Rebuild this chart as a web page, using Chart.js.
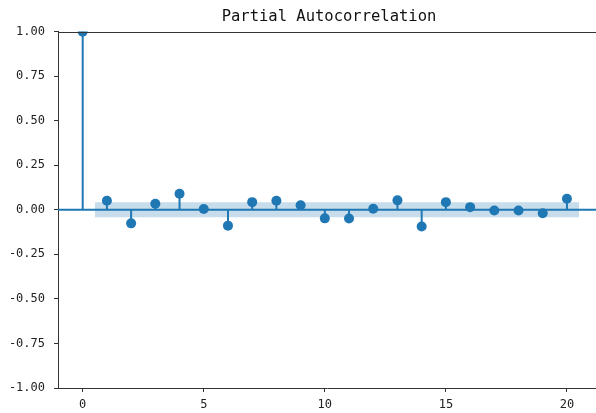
<!DOCTYPE html>
<html>
<head>
<meta charset="utf-8">
<script src="https://cdn.jsdelivr.net/npm/chart.js@4.4.0/dist/chart.umd.min.js"></script>
<style>
  html, body { margin: 0; padding: 0; background: #fff; }
  #wrap { width: 596px; height: 413px; }
</style>
</head>
<body>
<div id="wrap"><canvas id="pacf" width="596" height="413"></canvas></div>
<script>
var lags = [0, 1, 2, 3, 4, 5, 6, 7, 8, 9, 10, 11, 12, 13, 14, 15, 16, 17, 18, 19, 20];
var pacf = [1.0, 0.051, -0.076, 0.034, 0.09, 0.004, -0.089, 0.043, 0.051, 0.026, -0.048,
            -0.049, 0.006, 0.053, -0.094, 0.043, 0.015, -0.004, -0.004, -0.019, 0.062];
var confLimit = 0.042;
var bandLags = [0.5, 20.5];
var xTicks = [0, 5, 10, 15, 20];
var xMin = -1.02, xMax = 21.2;
var yMin = -1, yMax = 1;

var blue = '#1f77b4';
var axisColor = '#333';

// stems go from 0 to value, broken by a null point
var stems = [];
var markers = [];
for (var i = 0; i < lags.length; i++) {
  stems.push({x: lags[i], y: 0});
  stems.push({x: lags[i], y: pacf[i]});
  stems.push({x: lags[i], y: null});
  markers.push({x: lags[i], y: pacf[i]});
}

var topSpine = {
  id: 'topSpine',
  afterLayout: function(chart) {
    // center title over the axes like matplotlib does
    if (chart.titleBlock) {
      chart.titleBlock.left = chart.chartArea.left;
      chart.titleBlock.right = 600;
    }
  },
  afterDraw: function(chart) {
    var a = chart.chartArea, ctx = chart.ctx;
    ctx.save();
    ctx.strokeStyle = axisColor;
    ctx.lineWidth = 1;
    ctx.beginPath();
    ctx.moveTo(a.left, Math.round(a.top) + 0.5);
    ctx.lineTo(a.right, Math.round(a.top) + 0.5);
    ctx.stroke();
    ctx.restore();
  }
};

var ctx = document.getElementById('pacf').getContext('2d');
var chart = new Chart(ctx, {
  type: 'scatter',
  data: {
    datasets: [
      {
        data: markers,
        pointRadius: 5,
        pointBackgroundColor: blue,
        pointBorderWidth: 0,
        showLine: false,
        clip: 0
      },
      {
        data: stems,
        showLine: true,
        spanGaps: false,
        borderColor: blue,
        borderWidth: 2,
        pointRadius: 0
      },
      {
        data: [{x: xMin, y: 0}, {x: xMax, y: 0}],
        showLine: true,
        borderColor: blue,
        borderWidth: 2,
        pointRadius: 0
      },
      {
        data: bandLags.map(function(l) { return {x: l, y: confLimit}; }),
        showLine: true,
        borderWidth: 0,
        borderColor: 'rgba(0,0,0,0)',
        pointRadius: 0,
        fill: {value: -confLimit},
        backgroundColor: 'rgba(31,119,180,0.25)'
      }
    ]
  },
  options: {
    responsive: false,
    animation: false,
    layout: { padding: 0, autoPadding: false },
    plugins: {
      legend: { display: false },
      tooltip: { enabled: false },
      title: {
        display: true,
        text: 'Partial Autocorrelation',
        color: '#111',
        font: { family: 'DejaVu Sans Mono', size: 15.5, weight: 'normal' },
        padding: { top: 8, bottom: 5 }
      }
    },
    scales: {
      x: {
        type: 'linear',
        min: xMin,
        max: xMax,
        afterBuildTicks: function(axis) {
          axis.ticks = xTicks.map(function(v) { return {value: v}; });
        },
        afterFit: function(axis) {
          axis.height = 25;
          axis.paddingLeft = 0;
          axis.paddingRight = 0;
        },
        grid: { drawOnChartArea: false, tickLength: 4, tickColor: axisColor },
        border: { display: true, color: axisColor, width: 1 },
        ticks: {
          color: '#222',
          padding: 6,
          maxRotation: 0,
          font: { family: 'DejaVu Sans Mono', size: 12 }
        }
      },
      y: {
        min: yMin,
        max: yMax,
        afterFit: function(axis) { axis.width = 58; },
        grid: { drawOnChartArea: false, tickLength: 4, tickColor: axisColor },
        border: { display: true, color: axisColor, width: 1 },
        ticks: {
          stepSize: 0.25,
          color: '#222',
          padding: 9,
          font: { family: 'DejaVu Sans Mono', size: 12 },
          callback: function(v) { return v.toFixed(2); }
        }
      }
    }
  },
  plugins: [topSpine]
});
</script>
</body>
</html>
